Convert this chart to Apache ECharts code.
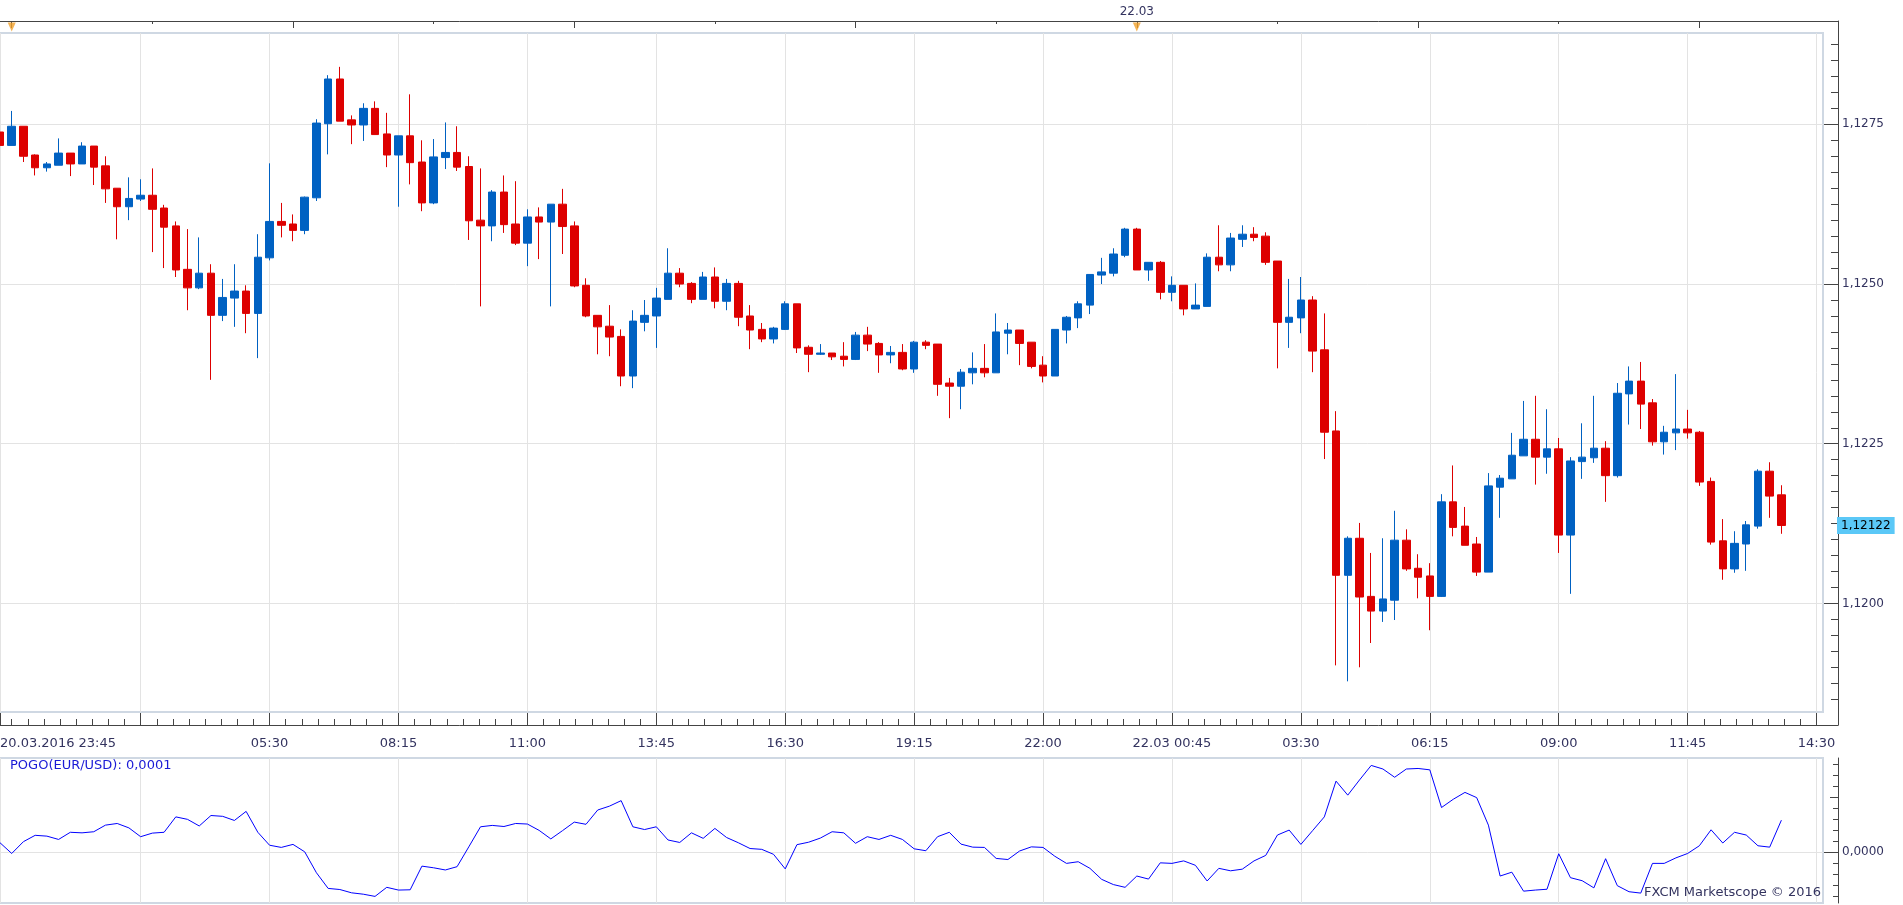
<!DOCTYPE html>
<html lang="en" style="height: 100%">
<head>
    <meta charset="utf-8">
</head>
<body style="height: 100%; margin: 0; background: #fff">
<div id="container" style="height: 100%"></div>

<script type="text/javascript" src="https://fastly.jsdelivr.net/npm/echarts@6.0.0/dist/echarts.min.js"></script>
<script type="text/javascript">
    // EUR/USD 15 min candles, 20.03.2016 23:45 .. 22.03.2016 13:45 (index 0 = 23:45)
    var openPrices = [
        1.12738, 1.12717, 1.12747, 1.12702, 1.12682, 1.12686, 1.12705, 1.12688, 1.12716, 1.12685,
        1.12650, 1.12621, 1.12633, 1.12639, 1.12619, 1.12591, 1.12523, 1.12494, 1.12517, 1.12451,
        1.12478, 1.12489, 1.12454, 1.12541, 1.12598, 1.12594, 1.12584, 1.12635, 1.12751, 1.12821,
        1.12757, 1.12749, 1.12775, 1.12735, 1.12702, 1.12732, 1.12691, 1.12627, 1.12698, 1.12706,
        1.12684, 1.12600, 1.12591, 1.12644, 1.12594, 1.12564, 1.12605, 1.12597, 1.12625, 1.12591,
        1.12498, 1.12451, 1.12434, 1.12418, 1.12356, 1.12440, 1.12450, 1.12476, 1.12517, 1.12501,
        1.12476, 1.12511, 1.12473, 1.12501, 1.12450, 1.12429, 1.12414, 1.12429, 1.12469, 1.12401,
        1.12390, 1.12392, 1.12387, 1.12382, 1.12420, 1.12407, 1.12389, 1.12393, 1.12367, 1.12409,
        1.12406, 1.12345, 1.12340, 1.12361, 1.12368, 1.12361, 1.12423, 1.12428, 1.12409, 1.12373,
        1.12356, 1.12428, 1.12447, 1.12467, 1.12514, 1.12517, 1.12545, 1.12586, 1.12522, 1.12534,
        1.12487, 1.12498, 1.12461, 1.12465, 1.12542, 1.12530, 1.12570, 1.12578, 1.12575, 1.12536,
        1.12440, 1.12447, 1.12475, 1.12397, 1.12270, 1.12044, 1.12102, 1.12011, 1.11988, 1.12005,
        1.12099, 1.12055, 1.12043, 1.12011, 1.12159, 1.12121, 1.12093, 1.12049, 1.12182, 1.12195,
        1.12231, 1.12257, 1.12229, 1.12242, 1.12107, 1.12222, 1.12228, 1.12243, 1.12200, 1.12328,
        1.12348, 1.12314, 1.12253, 1.12267, 1.12273, 1.12268, 1.12191, 1.12098, 1.12054, 1.12093,
        1.12121, 1.12207, 1.12170
    ];
    var closePrices = [
        1.12717, 1.12747, 1.12700, 1.12682, 1.12688, 1.12705, 1.12688, 1.12716, 1.12683, 1.12649,
        1.12621, 1.12634, 1.12639, 1.12617, 1.12589, 1.12522, 1.12494, 1.12517, 1.12451, 1.12479,
        1.12489, 1.12454, 1.12542, 1.12598, 1.12592, 1.12584, 1.12636, 1.12752, 1.12821, 1.12755,
        1.12749, 1.12775, 1.12734, 1.12702, 1.12732, 1.12690, 1.12627, 1.12699, 1.12706, 1.12683,
        1.12599, 1.12591, 1.12644, 1.12593, 1.12564, 1.12605, 1.12597, 1.12625, 1.12590, 1.12497,
        1.12450, 1.12433, 1.12417, 1.12356, 1.12442, 1.12451, 1.12478, 1.12517, 1.12500, 1.12476,
        1.12511, 1.12473, 1.12501, 1.12448, 1.12428, 1.12414, 1.12431, 1.12469, 1.12400, 1.12390,
        1.12392, 1.12386, 1.12382, 1.12420, 1.12406, 1.12389, 1.12393, 1.12367, 1.12409, 1.12404,
        1.12343, 1.12340, 1.12362, 1.12368, 1.12361, 1.12425, 1.12428, 1.12407, 1.12371, 1.12356,
        1.12429, 1.12448, 1.12469, 1.12515, 1.12519, 1.12547, 1.12586, 1.12522, 1.12534, 1.12487,
        1.12498, 1.12461, 1.12467, 1.12542, 1.12530, 1.12572, 1.12578, 1.12573, 1.12534, 1.12440,
        1.12448, 1.12475, 1.12395, 1.12268, 1.12044, 1.12102, 1.12010, 1.11988, 1.12007, 1.12099,
        1.12054, 1.12041, 1.12011, 1.12159, 1.12119, 1.12091, 1.12049, 1.12184, 1.12196, 1.12232,
        1.12257, 1.12229, 1.12242, 1.12107, 1.12223, 1.12229, 1.12243, 1.12200, 1.12329, 1.12348,
        1.12312, 1.12253, 1.12268, 1.12273, 1.12267, 1.12190, 1.12096, 1.12054, 1.12094, 1.12123,
        1.12207, 1.12168, 1.12122
    ];
    var lowPrices = [
        1.12716, 1.12717, 1.12691, 1.12670, 1.12676, 1.12686, 1.12669, 1.12688, 1.12655, 1.12627,
        1.12570, 1.12600, 1.12630, 1.12550, 1.12525, 1.12511, 1.12459, 1.12492, 1.12350, 1.12442,
        1.12433, 1.12423, 1.12384, 1.12537, 1.12573, 1.12567, 1.12578, 1.12630, 1.12703, 1.12755,
        1.12719, 1.12724, 1.12734, 1.12683, 1.12621, 1.12656, 1.12614, 1.12625, 1.12680, 1.12677,
        1.12569, 1.12465, 1.12567, 1.12580, 1.12561, 1.12528, 1.12539, 1.12465, 1.12547, 1.12495,
        1.12448, 1.12390, 1.12387, 1.12340, 1.12337, 1.12426, 1.12400, 1.12476, 1.12495, 1.12470,
        1.12476, 1.12462, 1.12459, 1.12434, 1.12398, 1.12409, 1.12407, 1.12428, 1.12392, 1.12362,
        1.12389, 1.12381, 1.12371, 1.12381, 1.12395, 1.12361, 1.12376, 1.12365, 1.12361, 1.12398,
        1.12325, 1.12290, 1.12304, 1.12343, 1.12354, 1.12361, 1.12390, 1.12373, 1.12368, 1.12346,
        1.12356, 1.12407, 1.12431, 1.12453, 1.12500, 1.12512, 1.12542, 1.12522, 1.12505, 1.12476,
        1.12473, 1.12451, 1.12461, 1.12465, 1.12520, 1.12520, 1.12558, 1.12567, 1.12530, 1.12368,
        1.12400, 1.12423, 1.12362, 1.12226, 1.11903, 1.11878, 1.11900, 1.11938, 1.11971, 1.11974,
        1.12051, 1.12008, 1.11958, 1.12010, 1.12105, 1.12091, 1.12043, 1.12049, 1.12134, 1.12195,
        1.12231, 1.12186, 1.12203, 1.12079, 1.12015, 1.12195, 1.12220, 1.12159, 1.12197, 1.12280,
        1.12273, 1.12247, 1.12233, 1.12240, 1.12258, 1.12184, 1.12092, 1.12037, 1.12048, 1.12051,
        1.12117, 1.12134, 1.12109
    ];
    var highPrices = [
        1.12738, 1.12771, 1.12747, 1.12703, 1.12691, 1.12728, 1.12705, 1.12722, 1.12716, 1.12700,
        1.12650, 1.12667, 1.12664, 1.12681, 1.12624, 1.12598, 1.12586, 1.12573, 1.12531, 1.12508,
        1.12531, 1.12498, 1.12578, 1.12689, 1.12627, 1.12609, 1.12637, 1.12758, 1.12827, 1.12840,
        1.12764, 1.12783, 1.12786, 1.12768, 1.12732, 1.12797, 1.12725, 1.12727, 1.12753, 1.12747,
        1.12700, 1.12681, 1.12647, 1.12670, 1.12661, 1.12617, 1.12620, 1.12625, 1.12649, 1.12598,
        1.12509, 1.12451, 1.12467, 1.12429, 1.12459, 1.12475, 1.12494, 1.12556, 1.12525, 1.12503,
        1.12519, 1.12526, 1.12508, 1.12505, 1.12467, 1.12439, 1.12433, 1.12473, 1.12469, 1.12404,
        1.12406, 1.12392, 1.12409, 1.12425, 1.12433, 1.12409, 1.12403, 1.12406, 1.12411, 1.12412,
        1.12406, 1.12353, 1.12367, 1.12393, 1.12406, 1.12454, 1.12439, 1.12428, 1.12409, 1.12387,
        1.12429, 1.12450, 1.12473, 1.12515, 1.12541, 1.12556, 1.12588, 1.12588, 1.12534, 1.12536,
        1.12512, 1.12498, 1.12501, 1.12548, 1.12592, 1.12580, 1.12592, 1.12589, 1.12581, 1.12536,
        1.12508, 1.12511, 1.12481, 1.12454, 1.12301, 1.12105, 1.12126, 1.12079, 1.12102, 1.12145,
        1.12116, 1.12077, 1.12063, 1.12171, 1.12216, 1.12151, 1.12104, 1.12204, 1.12201, 1.12267,
        1.12317, 1.12325, 1.12304, 1.12259, 1.12229, 1.12282, 1.12325, 1.12254, 1.12345, 1.12371,
        1.12378, 1.12320, 1.12278, 1.12359, 1.12303, 1.12270, 1.12197, 1.12132, 1.12113, 1.12129,
        1.12210, 1.12221, 1.12185
    ];
    // POGO indicator, one value per candle
    var pogoValues = [
        0.000034, -0.000005, 0.000038, 0.000061, 0.000058, 0.000046, 0.000072, 0.000070, 0.000074, 0.000098,
        0.000104, 0.000088, 0.000056, 0.000069, 0.000072, 0.000128, 0.000119, 0.000095, 0.000133, 0.000130,
        0.000115, 0.000148, 0.000072, 0.000025, 0.000017, 0.000028, 0.000001, -0.000075, -0.000132, -0.000136,
        -0.000148, -0.000153, -0.000161, -0.000128, -0.000138, -0.000137, -0.000051, -0.000057, -0.000065, -0.000053,
        0.000019, 0.000092, 0.000097, 0.000093, 0.000104, 0.000102, 0.000079, 0.000048, 0.000078, 0.000109,
        0.000101, 0.000153, 0.000167, 0.000187, 0.000092, 0.000082, 0.000092, 0.000044, 0.000035, 0.000070,
        0.000050, 0.000086, 0.000053, 0.000034, 0.000013, 0.000010, -0.000008, -0.000061, 0.000027, 0.000036,
        0.000051, 0.000074, 0.000070, 0.000032, 0.000056, 0.000046, 0.000061, 0.000046, 0.000012, 0.000005,
        0.000056, 0.000072, 0.000029, 0.000018, 0.000017, -0.000023, -0.000027, 0.000004, 0.000019, 0.000017,
        -0.000015, -0.000041, -0.000035, -0.000059, -0.000099, -0.000118, -0.000128, -0.000087, -0.000098, -0.000039,
        -0.000041, -0.000032, -0.000048, -0.000105, -0.000059, -0.000068, -0.000062, -0.000032, -0.000012, 0.000062,
        0.000080, 0.000028, 0.000078, 0.000128, 0.000258, 0.000207, 0.000262, 0.000315, 0.000302, 0.000272,
        0.000302, 0.000304, 0.000299, 0.000162, 0.000192, 0.000217, 0.000198, 0.000098, -0.000087, -0.000073,
        -0.000142, -0.000138, -0.000135, -0.000006, -0.000093, -0.000104, -0.000130, -0.000024, -0.000122, -0.000144,
        -0.000149, -0.000041, -0.000041, -0.000021, -0.000005, 0.000023, 0.000081, 0.000033, 0.000072, 0.000062,
        0.000023, 0.000018, 0.000116
    ];

    // time axis (candle index), bottom
    var timeTickIdx = [0, 12, 23, 34, 45, 56, 67, 78, 89, 100, 111, 122, 133, 144, 155];
    var timeLabelIdx = [0, 23, 34, 45, 56, 67, 78, 89, 100, 111, 122, 133, 144, 155];
    var timeLabels = ['20.03.2016 23:45', '05:30', '08:15', '11:00', '13:45', '16:30', '19:15',
        '22:00', '22.03 00:45', '03:30', '06:15', '09:00', '11:45', '14:30'];
    // top strip: 6h / 3h ticks and day markers
    var topMajorIdx = [1, 25, 49, 73, 97, 121, 145];
    var topMinorIdx = [13, 37, 61, 85, 109, 133];
    var dayIdx = [1, 97];
    var dayLabelIdx = [97];
    var dayLabels = ['22.03'];
    // price axis
    var priceLabels = [1.1200, 1.1225, 1.1250, 1.1275];
    var pogoLabels = [0];

    var xMax = 155.55;
    var priceMin = 1.1183, priceMax = 1.12893;
    var pogoMin = -0.000185, pogoMax = 0.000342;

    var font = 'DejaVu Sans';
    var labelColor = '#33335f';
    var axisDark = '#444444';
    var gridLineColor = '#e3e3e3';
    var frameColor = '#cfd8e3';
    var upColor = '#0061c2';
    var downColor = '#dd0000';

    function fmt(v, digits) {
        return v.toFixed(digits).replace('.', ',');
    }

    var xMinorTicks = [];
    for (var t = 1; t <= xMax; t += 1.375) {
        xMinorTicks.push(t);
    }
    var priceMinorTicks = [];
    for (var k = 0; k <= 44; k++) {
        priceMinorTicks.push(+(1.118 + k * 0.00025).toFixed(5));
    }
    var pogoMinorTicks = [];
    for (var j = -4; j <= 8; j++) {
        pogoMinorTicks.push(+(j * 0.00004).toFixed(5));
    }

    var candleData = openPrices.map(function (o, i) {
        return [i, o, closePrices[i], lowPrices[i], highPrices[i]];
    });
    var pogoData = pogoValues.map(function (v, i) {
        return [i, v];
    });
    var lastIdx = closePrices.length - 1;
    var lastClose = closePrices[lastIdx];
    var lastPogo = pogoValues[pogoValues.length - 1];

    function hiddenAxis(extra) {
        var a = {
            type: 'value',
            axisLine: {show: false, onZero: false},
            axisTick: {show: false},
            axisLabel: {show: false},
            splitLine: {show: false}
        };
        for (var key in extra) a[key] = extra[key];
        return a;
    }

    var dom = document.getElementById('container');
    var myChart = echarts.init(dom, null, {renderer: 'canvas'});

    var option = {
        animation: false,
        backgroundColor: '#ffffff',
        textStyle: {fontFamily: font},
        title: [
            {
                text: 'POGO(EUR/USD): ' + fmt(lastPogo, 4),
                left: 10,
                top: 759,
                padding: 0,
                textStyle: {color: '#1a1ad6', fontSize: 13, fontWeight: 'normal', fontFamily: font}
            },
            {
                text: 'FXCM Marketscope \u00a9 2016',
                right: 82,
                top: 886,
                padding: 0,
                textStyle: {color: labelColor, fontSize: 13, fontWeight: 'normal', fontFamily: font}
            }
        ],
        grid: [
            {left: 0, right: 80, top: 33, bottom: 193, show: true, borderColor: frameColor, borderWidth: 2, outerBoundsMode: 'none'},
            {left: 0, right: 80, top: 758, bottom: 2, show: true, borderColor: frameColor, borderWidth: 2, outerBoundsMode: 'none'},
            {left: 0, right: 80, top: 21, height: 12, outerBoundsMode: 'none'},
            {left: 0, right: 65, top: 21, bottom: 180, outerBoundsMode: 'none'}
        ],
        xAxis: [
            {
                type: 'value', gridIndex: 0, min: 0, max: xMax, position: 'bottom', offset: 13,
                axisLine: {show: false, onZero: false},
                axisTick: {inside: true, length: 12, customValues: timeTickIdx, lineStyle: {color: axisDark}},
                axisLabel: {
                    customValues: timeLabelIdx,
                    formatter: function (v) {
                        return timeLabels[timeLabelIdx.indexOf(v)];
                    },
                    margin: 12, color: labelColor, fontSize: 13, fontFamily: font,
                    alignMinLabel: 'left', showMinLabel: true, showMaxLabel: true
                },
                splitLine: {show: true, lineStyle: {color: gridLineColor}}
            },
            {
                type: 'value', gridIndex: 0, min: 0, max: xMax, position: 'bottom', offset: 13,
                axisLine: {show: false, onZero: false},
                axisTick: {inside: true, length: 6, customValues: xMinorTicks, lineStyle: {color: axisDark}},
                axisLabel: {show: false},
                splitLine: {show: false}
            },
            {
                type: 'value', gridIndex: 1, min: 0, max: xMax,
                axisLine: {show: false, onZero: false},
                axisTick: {show: false, customValues: timeTickIdx},
                axisLabel: {show: false},
                splitLine: {show: true, lineStyle: {color: gridLineColor}}
            },
            {
                type: 'value', gridIndex: 2, min: 0, max: xMax, position: 'top',
                axisLine: {show: false, onZero: false},
                axisTick: {inside: true, length: 7, customValues: topMajorIdx, lineStyle: {color: axisDark}},
                axisLabel: {
                    customValues: dayLabelIdx,
                    formatter: function (v) {
                        return dayLabels[dayLabelIdx.indexOf(v)];
                    },
                    margin: 3, color: labelColor, fontSize: 12, fontFamily: font
                },
                splitLine: {show: false}
            },
            {
                type: 'value', gridIndex: 2, min: 0, max: xMax, position: 'top',
                axisLine: {show: false, onZero: false},
                axisTick: {inside: true, length: 3, customValues: topMinorIdx, lineStyle: {color: axisDark}},
                axisLabel: {show: false},
                splitLine: {show: false}
            },
            // outer frame lines
            hiddenAxis({gridIndex: 3, min: 0, max: 1, position: 'bottom',
                axisLine: {show: true, onZero: false, lineStyle: {color: axisDark}}}),
            hiddenAxis({gridIndex: 3, min: 0, max: 1, position: 'top',
                axisLine: {show: true, onZero: false, lineStyle: {color: axisDark}}})
        ],
        yAxis: [
            {
                type: 'value', gridIndex: 0, min: priceMin, max: priceMax, position: 'right', offset: 15,
                axisLine: {show: false, onZero: false},
                axisTick: {inside: true, length: 14, customValues: priceLabels, lineStyle: {color: axisDark}},
                axisLabel: {
                    customValues: priceLabels,
                    formatter: function (v) {
                        return fmt(v, 4);
                    },
                    margin: 4, color: labelColor, fontSize: 12, fontFamily: font
                },
                splitLine: {show: true, lineStyle: {color: gridLineColor}}
            },
            {
                type: 'value', gridIndex: 0, min: priceMin, max: priceMax, position: 'right', offset: 15,
                axisLine: {show: false, onZero: false},
                axisTick: {inside: true, length: 7, customValues: priceMinorTicks, lineStyle: {color: axisDark}},
                axisLabel: {show: false},
                splitLine: {show: false}
            },
            {
                type: 'value', gridIndex: 1, min: pogoMin, max: pogoMax, position: 'right', offset: 15,
                axisLine: {show: true, onZero: false, lineStyle: {color: axisDark}},
                axisTick: {inside: true, length: 14, customValues: pogoLabels, lineStyle: {color: axisDark}},
                axisLabel: {
                    customValues: pogoLabels,
                    formatter: function (v) {
                        return fmt(v, 4);
                    },
                    margin: 4, color: labelColor, fontSize: 12, fontFamily: font
                },
                splitLine: {show: true, lineStyle: {color: gridLineColor}}
            },
            {
                type: 'value', gridIndex: 1, min: pogoMin, max: pogoMax, position: 'right', offset: 15,
                axisLine: {show: false, onZero: false},
                axisTick: {inside: true, length: 5, customValues: pogoMinorTicks, lineStyle: {color: axisDark}},
                axisLabel: {show: false},
                splitLine: {show: false}
            },
            {
                type: 'value', gridIndex: 1, min: pogoMin, max: pogoMax, position: 'right', offset: 15,
                axisLine: {show: false, onZero: false},
                axisTick: {inside: true, length: 8, customValues: [0.0002], lineStyle: {color: axisDark}},
                axisLabel: {show: false},
                splitLine: {show: false}
            },
            hiddenAxis({gridIndex: 2, min: -1, max: 1}),
            hiddenAxis({gridIndex: 3, min: 0, max: 1, position: 'right',
                axisLine: {show: true, onZero: false, lineStyle: {color: axisDark}}})
        ],
        series: [
            {
                type: 'candlestick',
                xAxisIndex: 0,
                yAxisIndex: 0,
                data: candleData,
                encode: {x: 0, y: [1, 2, 3, 4]},
                barWidth: 8,
                itemStyle: {
                    color: upColor,
                    color0: downColor,
                    borderColor: upColor,
                    borderColor0: downColor,
                    borderWidth: 1
                }
            },
            {
                // invisible level of the last close, only its end label (price tag) is shown
                type: 'line',
                xAxisIndex: 0,
                yAxisIndex: 0,
                data: [[lastIdx, lastClose], [xMax, lastClose]],
                symbol: 'none',
                silent: true,
                clip: false,
                lineStyle: {color: 'rgba(0,0,0,0)', width: 1},
                endLabel: {
                    show: true,
                    distance: 14,
                    formatter: function () {
                        return fmt(lastClose, 5);
                    },
                    backgroundColor: '#5bc8f7',
                    color: '#000000',
                    fontSize: 12,
                    fontFamily: font,
                    padding: [3, 4, 2, 4]
                }
            },
            {
                type: 'line',
                xAxisIndex: 2,
                yAxisIndex: 2,
                data: pogoData,
                symbol: 'none',
                lineStyle: {color: '#0000ff', width: 1}
            },
            {
                type: 'scatter',
                xAxisIndex: 3,
                yAxisIndex: 5,
                data: dayIdx.map(function (i) {
                    return [i, 0];
                }),
                symbol: 'triangle',
                symbolRotate: 180,
                symbolSize: [8, 9],
                itemStyle: {color: '#f2a12a'},
                clip: false
            }
        ]
    };

    if (option && typeof option === 'object') {
        myChart.setOption(option);
    }
    window.addEventListener('resize', myChart.resize);
</script>
</body>
</html>
